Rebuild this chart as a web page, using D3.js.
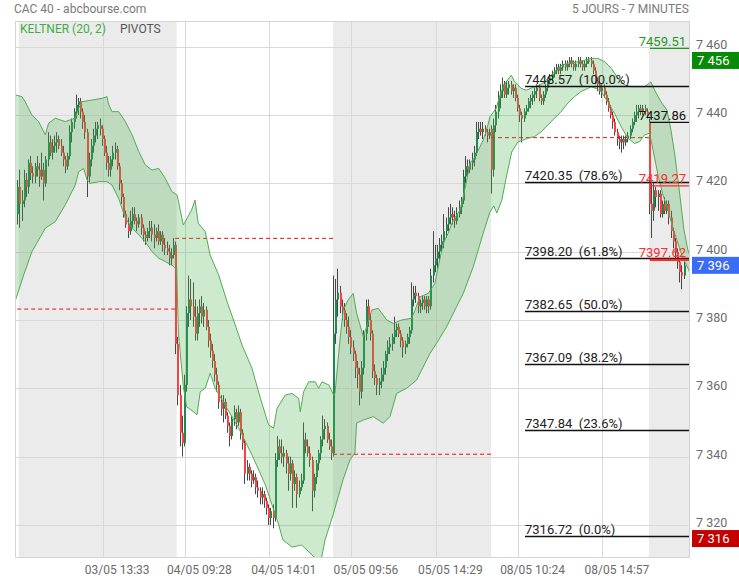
<!DOCTYPE html>
<html><head><meta charset="utf-8">
<script src="https://cdn.jsdelivr.net/npm/d3@7"></script>
<style>
body{margin:0;background:#fff;}
svg{display:block;font-family:Roboto,"Liberation Sans",Arial,sans-serif;}
</style></head><body>
<svg id="c" width="739" height="580"></svg>
<script>
// ---------- DATA (7-minute candles, index 0 = 03/05 09:00) ----------
const opens = [
7411,7419,7414,7415,7421,7419,7426,7423,7422,7425, 7424,7422,7424,7420,7427,7432,7429,7431,7432,7433,
7431,7429,7427,7425,7428,7435,7438,7441,7443,7444, 7441,7438,7435,7422,7427,7431,7434,7436,7437,7436,
7433,7429,7426,7424,7427,7429,7430,7425,7420,7416, 7411,7408,7406,7409,7411,7409,7408,7410,7407,7405,
7404,7406,7407,7405,7404,7406,7403,7405,7402,7401, 7400,7398,7399,
7402,7373,7358,7347,7344,7361,7382,7386,7384,7381, 7376,7382,7384,7381,7383,7378,7374,7371,7368,7364,
7361,7356,7354,7356,7352,7349,7346,7351,7353,7350, 7353,7347,7344,7335,7337,7335,7333,7334,7331,7330,
7328,7329,7327,7325,7322,7324,7322,7339,7343,7341, 7340,7341,7338,7335,7338,7332,7334,7329,7331,7333,
7345,7343,7341,7339,7330,7334,7338,7341,7345,7348, 7349,7345,7343,
7341,7376,7386,7388,7384,7383,7380,7378,7375,7372, 7370,7366,7364,7359,7366,7376,7384,7380,7376,7365,
7363,7361,7362,7364,7366,7370,7372,7373,7375,7377, 7378,7376,7374,7372,7373,7375,7377,7386,7388,7387,
7384,7385,7386,7384,7386,7384,7393,7396,7398,7400, 7402,7403,7406,7408,7410,7411,7410,7409,7411,7413,
7415,7422,7425,7424,7426,7427,7429,7435,7436,7435, 7436,7435,7434,
7436,7424,7437,7441,7445,7447,7449,7446,7448,7449, 7447,7448,7445,7442,7440,7439,7441,7442,7444,7445,
7446,7447,7448,7445,7444,7446,7448,7450,7451,7452, 7453,7454,7453,7454,7455,7454,7455,7456,7455,7454,
7455,7456,7455,7454,7455,7456,7456,7455,7453,7450, 7449,7447,7448,7446,7444,7442,7440,7438,7435,7433,
7432,7433,7432,7433,7434,7436,7438,7440,7441,7442, 7441,7442,7441,
7438,7414,7412,7418,7416,7417,7411,7414,7412,7414, 7410,7406,7403,7400,7397,7394,7393
];
const highs = [
7421,7424,7418,7424,7423,7427,7428,7425,7426,7428, 7426,7429,7426,7428,7435,7434,7433,7434,7435,7434,
7433,7431,7428,7429,7437,7439,7442,7446,7445,7445, 7442,7440,7436,7429,7433,7436,7438,7438,7439,7437,
7434,7431,7428,7428,7431,7432,7431,7426,7421,7417, 7412,7410,7412,7413,7413,7410,7411,7411,7408,7406,
7407,7409,7409,7408,7407,7408,7406,7406,7404,7403, 7402,7401,7404,
7403,7375,7361,7352,7364,7384,7393,7392,7391,7386, 7384,7386,7387,7385,7384,7380,7376,7373,7370,7366,
7362,7358,7358,7357,7353,7350,7352,7355,7354,7355, 7354,7348,7345,7339,7338,7336,7336,7335,7333,7331,
7331,7330,7328,7326,7325,7326,7341,7346,7345,7345, 7343,7342,7340,7340,7339,7336,7335,7333,7335,7350,
7347,7345,7343,7340,7335,7339,7342,7346,7352,7351, 7350,7347,7345,
7393,7392,7395,7390,7386,7385,7382,7381,7377,7374, 7371,7368,7366,7368,7377,7386,7386,7382,7377,7367,
7364,7363,7366,7368,7371,7374,7375,7376,7381,7379, 7379,7377,7375,7374,7376,7378,7391,7390,7390,7388,
7386,7387,7387,7387,7387,7395,7406,7402,7402,7404, 7405,7411,7410,7413,7414,7413,7412,7413,7415,7416,
7424,7428,7427,7427,7429,7431,7438,7438,7438,7438, 7437,7436,7436,
7437,7439,7443,7447,7449,7451,7450,7450,7450,7450, 7449,7449,7446,7443,7441,7442,7443,7445,7446,7447,
7448,7449,7449,7446,7447,7449,7451,7452,7453,7454, 7455,7455,7455,7456,7456,7456,7457,7457,7456,7456,
7457,7457,7456,7456,7457,7457,7457,7456,7454,7451, 7450,7449,7449,7447,7445,7443,7441,7439,7436,7434,
7434,7434,7434,7435,7437,7439,7441,7443,7443,7443, 7443,7443,7442,
7439,7420,7420,7419,7418,7418,7415,7416,7415,7415, 7412,7407,7404,7401,7398,7396,7397
];
const lows = [
7408,7407,7409,7413,7416,7417,7421,7420,7420,7422, 7419,7421,7415,7419,7425,7428,7427,7429,7429,7430,
7428,7425,7423,7424,7427,7432,7436,7439,7440,7439, 7436,7433,7416,7420,7425,7429,7432,7433,7434,7431,
7428,7424,7422,7422,7425,7427,7424,7418,7414,7410, 7407,7404,7405,7407,7408,7406,7407,7405,7403,7402,
7403,7404,7403,7401,7403,7402,7402,7400,7399,7399, 7396,7396,7398,
7370,7355,7343,7340,7343,7359,7378,7380,7378,7374, 7374,7378,7379,7378,7377,7372,7369,7366,7362,7359,
7354,7352,7350,7351,7347,7343,7345,7349,7348,7349, 7345,7342,7332,7333,7333,7331,7332,7329,7328,7326,
7326,7325,7323,7320,7320,7319,7321,7337,7339,7338, 7337,7335,7330,7333,7325,7330,7325,7328,7330,7332,
7341,7340,7337,7324,7328,7332,7336,7339,7343,7345, 7344,7342,7339,
7340,7373,7381,7382,7380,7378,7376,7373,7370,7368, 7363,7360,7355,7357,7364,7374,7378,7374,7363,7361,
7358,7358,7360,7362,7364,7368,7370,7371,7373,7375, 7375,7372,7369,7370,7372,7373,7376,7384,7385,7382,
7382,7383,7383,7382,7382,7383,7391,7394,7395,7397, 7400,7401,7404,7406,7408,7408,7407,7408,7410,7411,
7414,7420,7422,7423,7424,7425,7428,7433,7434,7433, 7434,7432,7433,
7417,7422,7435,7439,7442,7445,7445,7445,7446,7446, 7445,7444,7441,7438,7432,7438,7440,7441,7442,7443,
7444,7445,7444,7443,7443,7445,7447,7449,7450,7451, 7452,7452,7452,7453,7453,7453,7454,7454,7453,7453,
7454,7454,7453,7453,7454,7455,7454,7452,7449,7447, 7446,7445,7445,7443,7441,7439,7436,7434,7431,7430,
7429,7430,7431,7432,7433,7435,7437,7438,7439,7440, 7440,7440,7439,
7411,7404,7409,7413,7412,7410,7410,7411,7411,7408, 7404,7401,7398,7395,7391,7389,7392
];
const closes = [
7419,7414,7415,7421,7419,7426,7423,7422,7425,7424, 7422,7424,7420,7427,7432,7429,7431,7432,7433,7431,
7429,7427,7425,7428,7435,7438,7441,7443,7444,7441, 7438,7435,7422,7427,7431,7434,7436,7437,7436,7433,
7429,7426,7424,7427,7429,7430,7425,7420,7416,7411, 7408,7406,7409,7411,7409,7408,7410,7407,7405,7404,
7406,7407,7405,7404,7406,7403,7405,7402,7401,7400, 7398,7399,7402,
7373,7358,7347,7344,7361,7382,7386,7384,7381,7376, 7382,7384,7381,7383,7378,7374,7371,7368,7364,7361,
7356,7354,7356,7352,7349,7346,7351,7353,7350,7353, 7347,7344,7335,7337,7335,7333,7334,7331,7330,7328,
7329,7327,7325,7322,7324,7322,7339,7343,7341,7340, 7341,7338,7335,7338,7332,7334,7329,7331,7333,7345,
7343,7341,7339,7330,7334,7338,7341,7345,7348,7349, 7345,7343,7341,
7376,7386,7388,7384,7383,7380,7378,7375,7372,7370, 7366,7364,7359,7366,7376,7384,7380,7376,7365,7363,
7361,7362,7364,7366,7370,7372,7373,7375,7377,7378, 7376,7374,7372,7373,7375,7377,7386,7388,7387,7384,
7385,7386,7384,7386,7384,7393,7396,7398,7400,7402, 7403,7406,7408,7410,7411,7410,7409,7411,7413,7415,
7422,7425,7424,7426,7427,7429,7435,7436,7435,7436, 7435,7434,7435,
7424,7437,7441,7445,7447,7449,7446,7448,7449,7447, 7448,7445,7442,7440,7439,7441,7442,7444,7445,7446,
7447,7448,7445,7444,7446,7448,7450,7451,7452,7453, 7454,7453,7454,7455,7454,7455,7456,7455,7454,7455,
7456,7455,7454,7455,7456,7456,7455,7453,7450,7449, 7447,7448,7446,7444,7442,7440,7438,7435,7433,7432,
7433,7432,7433,7434,7436,7438,7440,7441,7442,7441, 7442,7441,7440,
7414,7412,7418,7416,7417,7411,7414,7412,7414,7410, 7406,7403,7400,7397,7394,7393,7396
];

// Keltner (20, 2) band readings: [candle index, price]
const keltnerUpper = [
[-2,7446],[1.7,7445.4],[3.2,7443.9],[6.3,7440],[9.4,7438.1],[12.5,7434.2],[14,7437.6],[17.1,7439.1],
[21.7,7438.1],[26.3,7439.1],[27.9,7442],[29.4,7443.9],[34,7444.4],[38.7,7444.9],[41,7445.4],[41.8,7443],
[43.3,7441],[46.4,7441],[49.5,7438.1],[52.6,7434.2],[55.7,7429.3],[58.7,7425.4],[61.8,7423.9],[64.9,7424.4],
[67.9,7421.5],[71,7417.6],[73.4,7416.6],[76.3,7407.8],[80.1,7412.2],[81.7,7415.1],[83.2,7408.3],[86.4,7405.9],
[88.7,7399],[92.6,7393.2],[96.5,7385.4],[100.3,7378.5],[103.4,7372.7],[108,7365.9],[111.9,7357.1],[115.7,7349.3],
[118,7348.3],[119.6,7354.1],[123.4,7358],[126.5,7358.5],[129.6,7357.1],[130.3,7353.1],[131.9,7359],[134.2,7361.9],
[137.3,7361.9],[138.8,7360],[140.4,7361.9],[143.5,7361],[145.8,7358],[146.4,7358.6],[148.7,7374.1],[150.2,7382.9],
[152.5,7385.9],[154.8,7387.8],[156.4,7382],[159.5,7375.1],[161,7378],[163.4,7382.9],[166.4,7383.4],[170.3,7380],
[173.3,7379],[177.2,7380],[181.8,7380.5],[183.4,7382.9],[185.7,7386.8],[189.5,7387.8],[192.6,7390.7],[194.1,7395.6],
[196.5,7402.5],[198.7,7405.4],[201.1,7409.3],[204.2,7412.2],[205.7,7416.1],[207.3,7421],[208.8,7425.9],[211.1,7427.8],
[213.4,7430.7],[214.9,7432.7],[216.5,7435.6],[218,7439.5],[218.6,7440],[220.9,7442],[223.2,7446.9],[225.6,7449.8],
[227.9,7451.7],[229.4,7449.8],[232.5,7447.8],[234.8,7447.3],[238.7,7448.3],[242.5,7449.3],[246.4,7451.7],[250.2,7454.2],
[254.1,7455.2],[258.7,7455.6],[261.8,7456.1],[264.9,7456.6],[268,7456.6],[271.1,7455.6],[274.1,7453.7],[277.2,7450.8],
[280.3,7448.8],[283.3,7448.3],[286.4,7448.3],[289.5,7448.3],[292.4,7449.7],[294.8,7446.5],[297.5,7443.5],[299.8,7441.5],
[301.7,7435.6],[303.5,7428.3],[305.8,7416.6],[307.7,7406.4],[309.5,7400.5],[311,7398]
];
const keltnerLower = [
[-2,7384.4],[2.5,7393.2],[6.3,7400],[12.5,7406.9],[17.1,7408.8],[21.7,7413.7],[26.3,7419.5],[27.9,7423.4],
[30.2,7424.4],[31.8,7421],[33.3,7420],[37.2,7420.5],[41,7420.5],[43.3,7419.5],[46.4,7415.6],[49.5,7409.8],
[52.6,7406.9],[55.7,7404.9],[58.7,7402.9],[61.8,7400],[64.9,7398.1],[67.9,7397.1],[71,7396.1],[72.4,7395.2],
[73.2,7395.6],[74,7376.2],[76.3,7360.5],[77.8,7354.6],[81.7,7352.8],[82.6,7352.2],[84.1,7359],[86.4,7360],
[88.7,7364.4],[91,7360],[101.9,7348.3],[108,7340.5],[114.2,7331.7],[117.3,7325.8],[120.4,7320],[122.3,7315.6],
[126.5,7313.5],[131,7314.1],[135.3,7311.5],[139.7,7308.8],[141.8,7315.6],[145.5,7322.9],[150.1,7333.2],[153.3,7339],
[155.6,7341.1],[156.4,7349.8],[159.5,7350.7],[164.1,7351.7],[168.7,7349.8],[171.8,7351.7],[174.9,7358.5],[179.5,7360],
[184.1,7362.4],[190.3,7370.2],[193.4,7373.2],[198,7378],[202.6,7383.9],[205.7,7387.8],[210.3,7395.6],[214.9,7405.4],
[218,7411.6],[219.8,7413.4],[221.2,7411.3],[223.5,7415.1],[225.8,7422.5],[228.1,7429.2],[230.9,7432.1],[235.5,7433.2],
[238.6,7433.7],[241.7,7435.1],[244.8,7437.1],[247.9,7439.1],[250.9,7441],[254,7443.5],[257.1,7445.4],[260.2,7446.9],
[263.3,7447.8],[264.8,7448.3],[267.1,7447.8],[269.4,7446.9],[272.5,7443.9],[275.6,7440.5],[278.7,7436.6],[281.8,7433.2],
[284.9,7431.7],[287.2,7432.2],[289.5,7434.2],[291.8,7434.7],[293.4,7429.8],[295.7,7422.5],[298,7416.6],[300.3,7412.2],
[302.6,7406.9],[304.9,7402.5],[307.2,7398.2],[309.5,7395.2],[311,7393]
];

const dayStart = [0, 73, 146, 219, 292];          // first candle of each session
const shadedDays = [0, 2, 4];
const pivotDashed = [7383.2, 7403.9, 7340.7, 7433.4]; // daily pivot, sessions 0..3
const lastPivotValues = [7459.51, 7437.86, 7419.27, 7397.62];
const lastPivotKinds = ["r", "p", "s", "s"];
const fibValues = [7448.57, 7420.35, 7398.20, 7382.65, 7367.09, 7347.84, 7316.72];
const fibPct = ["100.0%", "78.6%", "61.8%", "50.0%", "38.2%", "23.6%", "0.0%"];
const xTickIdx = [39, 77, 116, 154, 193, 231, 270];
const xTickLabels = ["03/05 13:33","04/05 09:28","04/05 14:01","05/05 09:56","05/05 14:29","08/05 10:24","08/05 14:57"];
const yTicks = [7320, 7340, 7360, 7380, 7400, 7420, 7440, 7460];
const badgeValues = [7456, 7396, 7316];
const badgeKinds = ["high", "last", "low"];

// ---------- LAYOUT ----------
const P = {l:15, r:690, t:21, b:557};
const svg = d3.select("#c");
const x = d3.scaleLinear().domain([-1.525, 310.5]).range([P.l, P.r]);
const y = d3.scaleLinear().domain([7310.6, 7467.55]).range([P.b, P.t]);
const fmt = d3.formatLocale({decimal:".", thousands:" ", grouping:[3], currency:["",""]}).format(",d");

svg.append("defs").append("clipPath").attr("id","clip")
  .append("rect").attr("x",P.l).attr("y",P.t).attr("width",P.r-P.l).attr("height",P.b-P.t);

const plot = svg.append("g").attr("clip-path","url(#clip)");

// session shading
plot.selectAll("rect.day").data(shadedDays).join("rect").attr("class","day")
  .attr("x", d => x(dayStart[d]-0.5)+ (d===0?1.5:0))
  .attr("width", d => x(dayStart[d]+72.5) - x(dayStart[d]-0.5))
  .attr("y", P.t).attr("height", P.b-P.t).attr("fill","#ebebeb");

// grid
plot.selectAll("line.hg").data(yTicks).join("line")
  .attr("x1",P.l).attr("x2",P.r).attr("y1",d=>Math.round(y(d))+0.5).attr("y2",d=>Math.round(y(d))+0.5)
  .attr("stroke","#d9d9d9").attr("stroke-width",1);
plot.selectAll("line.vg").data(xTickIdx).join("line")
  .attr("y1",P.t).attr("y2",P.b).attr("x1",d=>Math.round(x(d))+0.5).attr("x2",d=>Math.round(x(d))+0.5)
  .attr("stroke","#d9d9d9").attr("stroke-width",1);

// candles (pixel-snapped)
const idx = d3.range(closes.length);
const UP = "#1c8a50", DOWN = "#ff3f3f";
const bx = i => Math.round(x(i) - 1);
plot.append("g").selectAll("rect").data(idx).join("rect")
  .attr("x", i => bx(i)).attr("width", 1)
  .attr("y", i => y(highs[i])).attr("height", i => y(lows[i]) - y(highs[i]))
  .attr("fill","#474747");
plot.append("g").selectAll("rect").data(idx).join("rect")
  .attr("x", i => bx(i)).attr("width", 2)
  .attr("y", i => y(Math.max(opens[i],closes[i])))
  .attr("height", i => Math.max(1.2, Math.abs(y(opens[i])-y(closes[i]))))
  .attr("fill", i => closes[i] >= opens[i] ? UP : DOWN);

// daily pivots (dashed)
plot.selectAll("line.pv").data(pivotDashed).join("line")
  .attr("x1",(d,k)=>x(dayStart[k]-0.5)).attr("x2",(d,k)=>x(dayStart[k]+72.5))
  .attr("y1",d=>y(d)).attr("y2",d=>y(d))
  .attr("stroke","#e8100c").attr("stroke-width",1).attr("stroke-dasharray","4,3");

// Keltner band
const pt = d => [x(d[0]), y(d[1])];
const line = d3.line();
const poly = keltnerUpper.map(pt).concat(keltnerLower.slice().reverse().map(pt));
plot.append("path").attr("d", line(poly)+"Z").attr("fill","rgba(76,175,80,0.28)").attr("stroke","none");
plot.append("path").attr("d", line(keltnerUpper.map(pt))).attr("fill","none").attr("stroke","#55aa55").attr("stroke-width",1);
plot.append("path").attr("d", line(keltnerLower.map(pt))).attr("fill","none").attr("stroke","#55aa55").attr("stroke-width",1);

// Fibonacci retracements
const fibX0 = 525;
const fg = svg.append("g");
fg.selectAll("line").data(fibValues).join("line")
  .attr("x1",fibX0).attr("x2",P.r).attr("y1",d=>Math.round(y(d))+0.5).attr("y2",d=>Math.round(y(d))+0.5)
  .attr("stroke","#111").attr("stroke-width",1.3);
fg.selectAll("text").data(fibValues).join("text")
  .attr("x",fibX0).attr("y",d=>y(d)-2)
  .style("white-space","pre").attr("font-size",13).attr("fill","#222")
  .text((d,k)=>d.toFixed(2)+"  ("+fibPct[k]+")");

// current session pivot levels
const kindColor = {r:"#1e9a1e", p:"#111", s:"#ff2a2a"};
const lg = svg.append("g");
const lx0 = x(dayStart[4]-0.5)+1;
lg.selectAll("line").data(lastPivotValues).join("line")
  .attr("x1",lx0).attr("x2",P.r).attr("y1",d=>y(d)).attr("y2",d=>y(d))
  .attr("stroke",(d,k)=>kindColor[lastPivotKinds[k]])
  .attr("stroke-width",(d,k)=>k===3?2.2:1.3);
lg.selectAll("text").data(lastPivotValues).join("text")
  .attr("x",686).attr("y",d=>y(d)-2.5).attr("text-anchor","end")
  .attr("font-size",13).attr("fill",(d,k)=>kindColor[lastPivotKinds[k]])
  .text(d=>d.toFixed(2));

// plot frame
svg.append("rect").attr("x",P.l+0.5).attr("y",P.t+0.5).attr("width",P.r-P.l-1).attr("height",P.b-P.t)
  .attr("fill","none").attr("stroke","#d4d4d4");

// y axis
const ya = svg.append("g").attr("transform",`translate(${P.r},0)`)
  .call(d3.axisRight(y).tickValues(yTicks).tickSize(0).tickPadding(6).tickFormat(fmt));
ya.select(".domain").remove();
ya.selectAll("text").attr("font-size",12.5).attr("fill","#6b6b6b").attr("font-family","Roboto").attr("y",-2.5);

// x axis
const xa = svg.append("g").attr("transform",`translate(0,${P.b})`)
  .call(d3.axisBottom(x).tickValues(xTickIdx).tickSize(0).tickPadding(8).tickFormat((d,k)=>xTickLabels[k]));
xa.select(".domain").remove();
xa.selectAll("text").attr("font-size",12).attr("fill","#6b6b6b").attr("font-family","Roboto").attr("x",14);

// badges
const badgeColor = {high:"#078a07", last:"#3b6cf5", low:"#c40000"};
const bg = svg.append("g");
bg.selectAll("rect").data(badgeValues).join("rect")
  .attr("x",692).attr("width",47).attr("y",d=>y(d)-8.5).attr("height",17)
  .attr("fill",(d,k)=>badgeColor[badgeKinds[k]]);
bg.selectAll("text").data(badgeValues).join("text")
  .attr("x",697).attr("y",d=>y(d)).attr("dy","0.35em")
  .attr("font-size",13).attr("fill","#fff").text(d=>fmt(d));

// header
svg.append("text").attr("x",14).attr("y",12.5).attr("font-size",12).attr("fill","#7a7a7a").text("CAC 40 - abcbourse.com");
svg.append("text").attr("x",689).attr("y",12.5).attr("text-anchor","end").attr("font-size",12).attr("fill","#7a7a7a").text("5 JOURS - 7 MINUTES");
svg.append("text").attr("x",20).attr("y",32.5).attr("font-size",12).attr("fill","#3fae3f").text("KELTNER (20, 2)");
svg.append("text").attr("x",120).attr("y",32.5).attr("font-size",12).attr("fill","#555").text("PIVOTS");
</script>
</body></html>
